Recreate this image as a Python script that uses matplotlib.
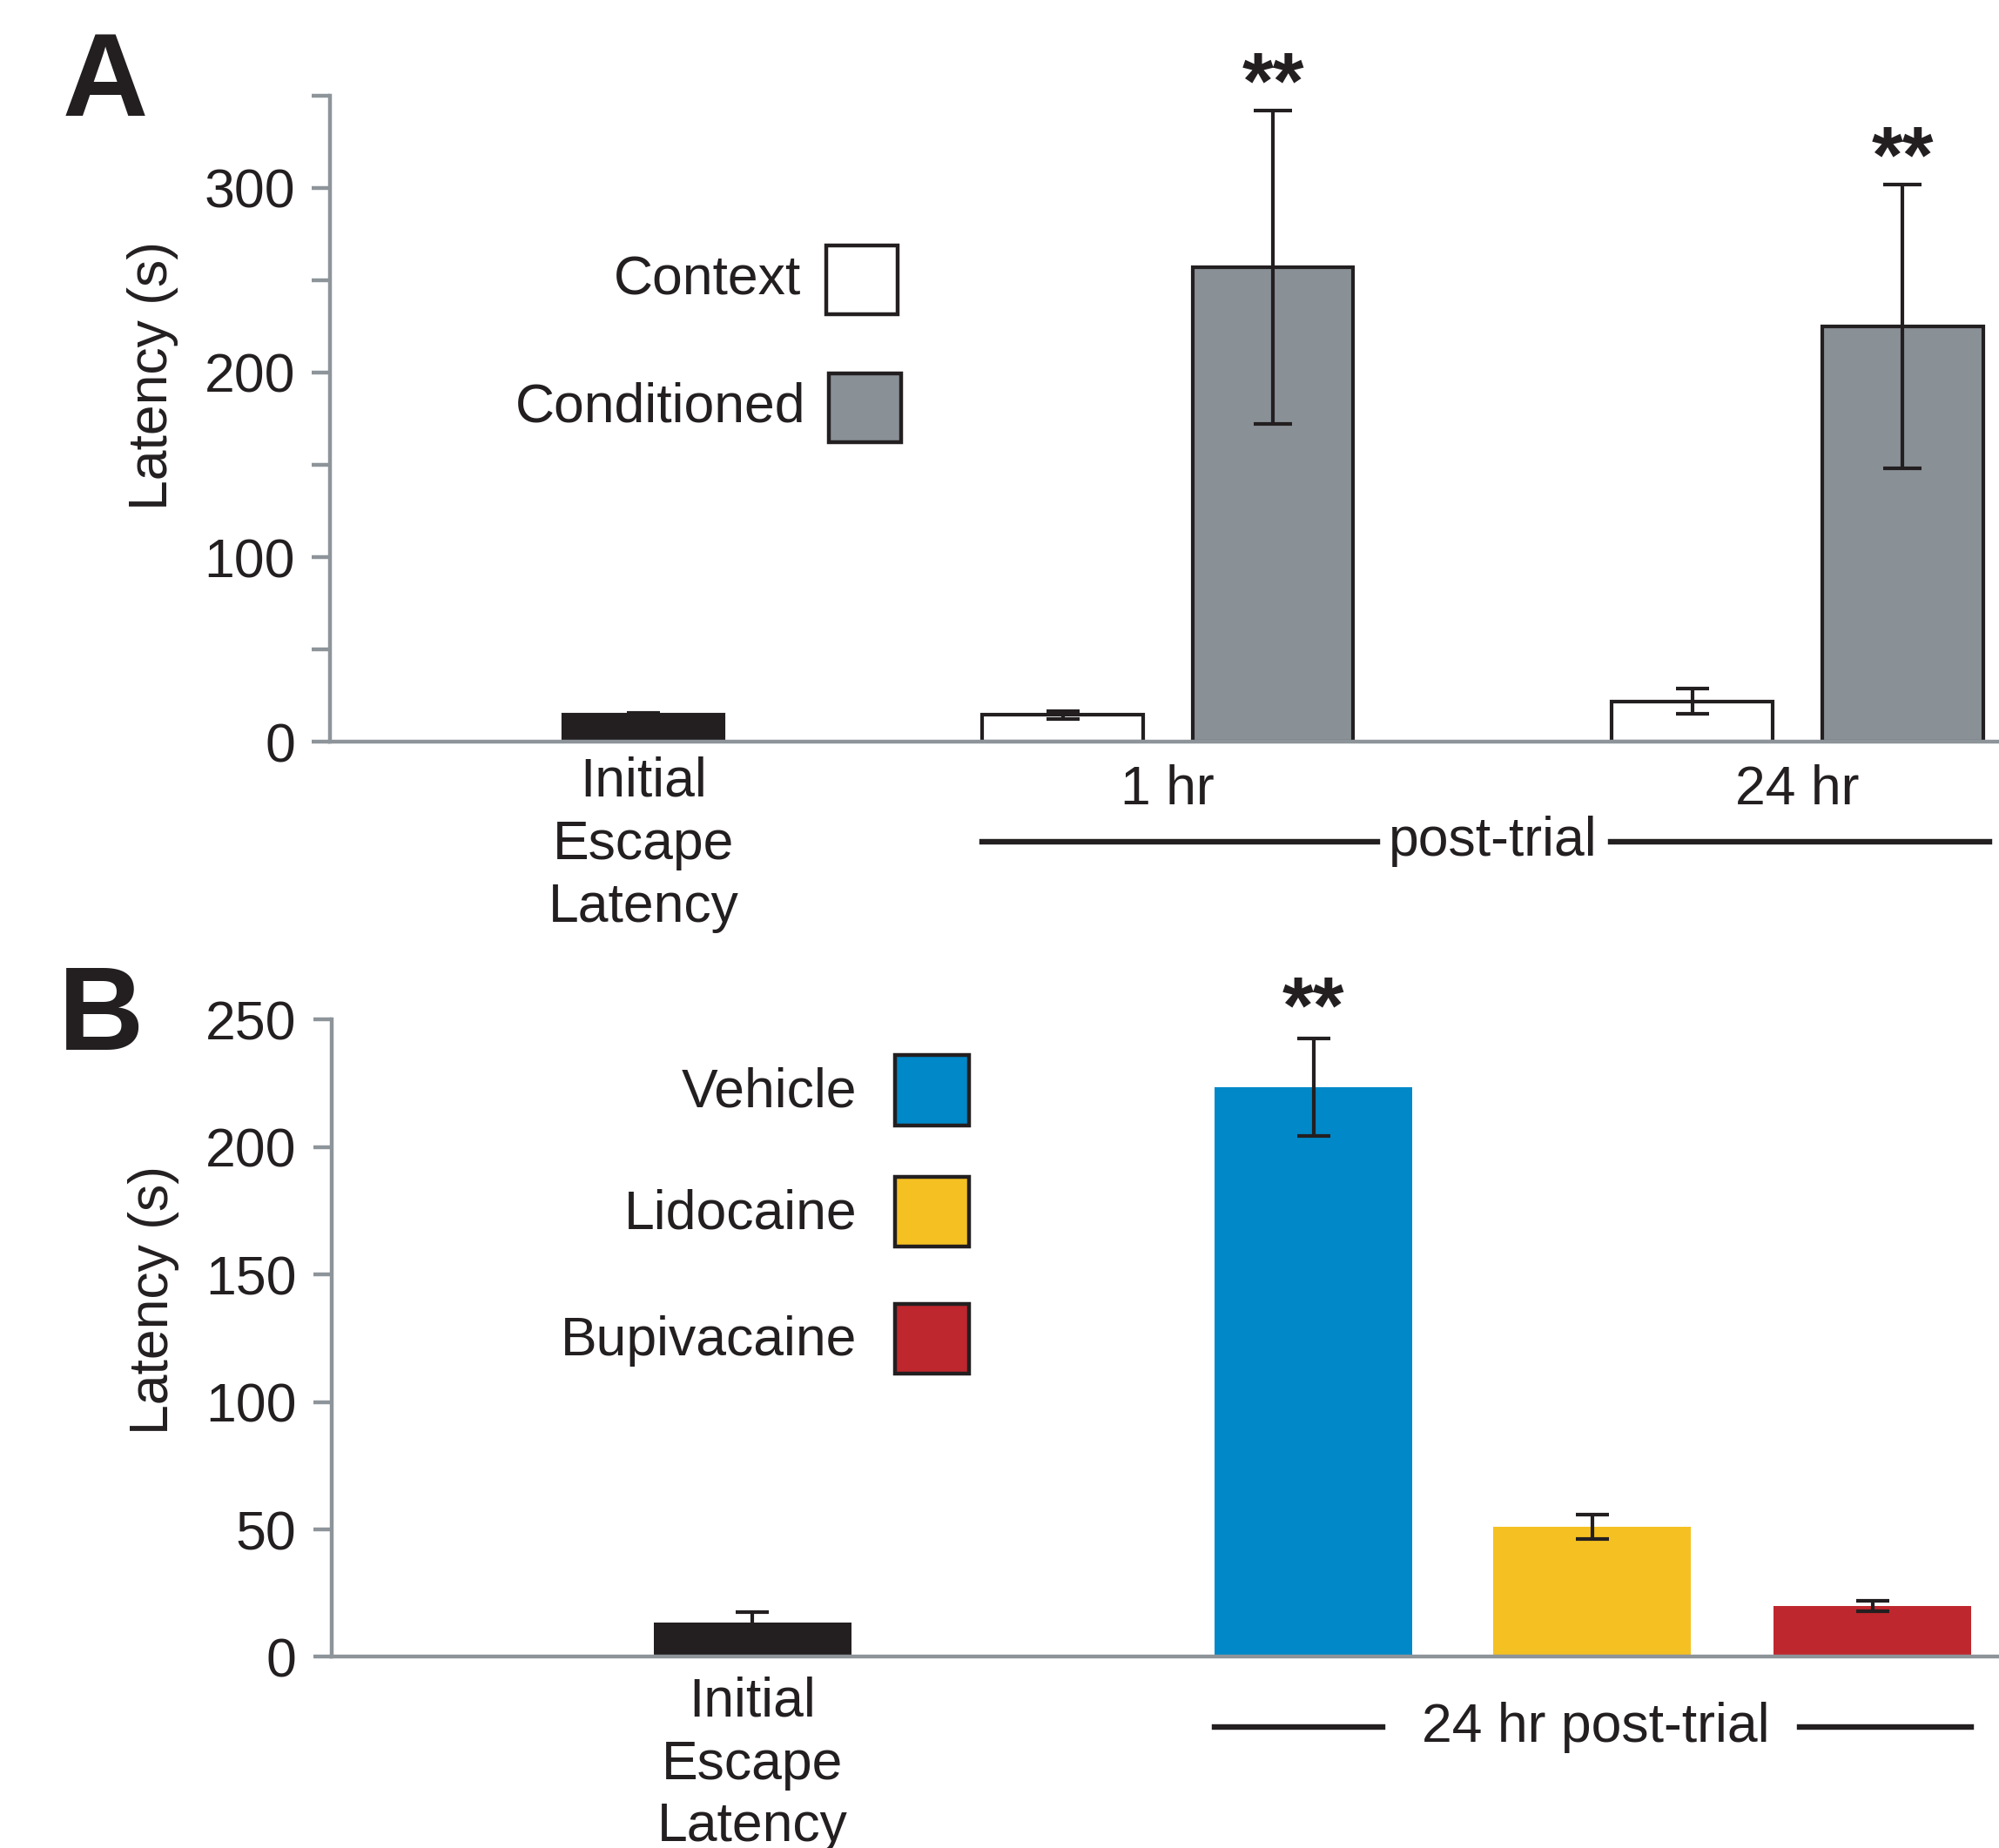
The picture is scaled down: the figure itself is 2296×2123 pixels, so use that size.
import matplotlib
matplotlib.use('Agg')
import matplotlib.pyplot as plt
from matplotlib.patches import Rectangle

plt.rcParams['font.family'] = ['Liberation Sans', 'DejaVu Sans']

# ---- panel A data (latency in s, mean and SEM)
a_initial = 14.5
a_initial_err = 1.0
a_groups = ['1 hr', '24 hr']
a_context = [14.5, 22.0]
a_context_err = [2.0, 7.0]
a_conditioned = [257.0, 225.0]
a_conditioned_err = [85.0, 77.0]

# ---- panel B data
b_initial = 13.5
b_initial_err = 4.0
b_drugs = ['Vehicle', 'Lidocaine', 'Bupivacaine']
b_values = [223.5, 51.0, 20.0]
b_errs = [19.0, 4.7, 2.0]

INK = '#231f20'
SPINE = '#8d949a'
GRAY = '#899096'
b_colors = ['#0088c8', '#f5c022', '#be272d']
FS = 45

fig = plt.figure(figsize=(22.96, 21.23), dpi=100)
axA = fig.add_axes([0.1652, 0.5986, 0.8348, 0.3497])
axB = fig.add_axes([0.1658, 0.1034, 0.8342, 0.3448])


def style_axis(ax, label_y, xpad):
    for s in ['top', 'right']:
        ax.spines[s].set_visible(False)
    for s in ['left', 'bottom']:
        ax.spines[s].set_color(SPINE)
        ax.spines[s].set_linewidth(3.2)
    ax.tick_params(axis='y', which='both', direction='out', length=15,
                   width=3.2, color=SPINE, labelsize=FS, pad=14,
                   labelcolor=INK)
    ax.tick_params(axis='x', length=0, labelsize=FS, labelcolor=INK, pad=xpad)
    ax.set_ylabel('Latency (s)', fontsize=FS, color=INK)
    ax.yaxis.set_label_coords(-0.091, label_y)


ekw = dict(fmt='none', ecolor=INK, elinewidth=3.0, capthick=3.0, zorder=5)
star_kw = dict(ha='center', va='baseline', fontsize=66, fontweight='semibold',
               color=INK, clip_on=False)

# ================= panel A
style_axis(axA, 0.566, 12)
w = 1.0
xa_init = 1.95
xa_ctx = [4.56, 8.48]
xa_cond = [5.87, 9.79]
axA.bar(xa_init, a_initial, width=w, color=INK, edgecolor=INK, linewidth=3)
axA.bar(xa_ctx, a_context, width=w, color='white', edgecolor=INK, linewidth=3)
axA.bar(xa_cond, a_conditioned, width=w, color=GRAY, edgecolor=INK, linewidth=3)
axA.errorbar([xa_init], [a_initial], yerr=[a_initial_err], capsize=14, **ekw)
axA.errorbar(xa_ctx, a_context, yerr=a_context_err, capsize=14, **ekw)
axA.errorbar(xa_cond, a_conditioned, yerr=a_conditioned_err, capsize=16, **ekw)
for x, v, e in zip(xa_cond, a_conditioned, a_conditioned_err):
    axA.text(x, v + e + 1, '**', **star_kw)

axA.set_xlim(0, 10.39)
axA.set_ylim(0, 350)
axA.set_yticks([0, 100, 200, 300])
axA.set_yticks([50, 150, 250, 350], minor=True)
grp_centers = [(c + d) / 2 for c, d in zip(xa_ctx, xa_cond)]
axA.set_xticks([xa_init] + grp_centers)
axA.set_xticklabels(['Initial\nEscape\nLatency'] + a_groups, va='top',
                    linespacing=1.28)
for lab in axA.get_xticklabels()[1:]:
    lab.set_y(-0.012)

# post-trial bracket
trA = axA.get_xaxis_transform()
axA.plot([xa_ctx[0] - 0.5, 6.52], [-0.154, -0.154], color=INK, lw=4.6,
         transform=trA, clip_on=False)
axA.plot([7.97, 10.33], [-0.154, -0.154], color=INK, lw=4.6,
         transform=trA, clip_on=False)
axA.text(7.24, -0.154, 'post-trial', transform=trA, ha='center', va='center',
         fontsize=FS, color=INK)

# legend A
leg_a = [('Context', 'white', 0.297, 0.661, 0.714, 0.282),
         ('Conditioned', GRAY, 0.2987, 0.4635, 0.517, 0.285)]
for name, col, x0, y0, ty, tx in leg_a:
    axA.add_patch(Rectangle((x0, y0), 0.0432, 0.107, transform=axA.transAxes,
                            facecolor=col, edgecolor=INK, linewidth=3.2,
                            clip_on=False))
    axA.text(tx, ty, name, transform=axA.transAxes, ha='right', va='center',
             fontsize=FS, color=INK)

# ================= panel B
style_axis(axB, 0.56, 16)
xb_init = 2.13
xb_drugs = [4.97, 6.38, 7.80]
axB.bar(xb_init, b_initial, width=w, color=INK)
axB.bar(xb_drugs, b_values, width=w, color=b_colors)
axB.errorbar([xb_init], [b_initial], yerr=[b_initial_err], capsize=14, **ekw)
axB.errorbar(xb_drugs, b_values, yerr=b_errs, capsize=14, **ekw)
axB.text(xb_drugs[0], b_values[0] + b_errs[0] + 2.5, '**', **star_kw)

axB.set_xlim(0, 8.44)
axB.set_ylim(0, 250)
axB.set_yticks([0, 50, 100, 150, 200, 250])
axB.set_xticks([xb_init])
axB.set_xticklabels(['Initial\nEscape\nLatency'], va='top', linespacing=1.28)

trB = axB.get_xaxis_transform()
axB.plot([xb_drugs[0] - 0.5, 5.32], [-0.11, -0.11], color=INK, lw=4.6,
         transform=trB, clip_on=False)
axB.plot([7.43, 8.30], [-0.11, -0.11], color=INK, lw=4.6,
         transform=trB, clip_on=False)
axB.text(6.40, -0.11, '24 hr post-trial', transform=trB, ha='center',
         va='center', fontsize=FS, color=INK)

# legend B
leg_b_y = [(0.834, 0.886), (0.644, 0.694), (0.444, 0.496)]
for name, col, (y0, ty) in zip(b_drugs, b_colors, leg_b_y):
    axB.add_patch(Rectangle((0.338, y0), 0.0443, 0.11, transform=axB.transAxes,
                            facecolor=col, edgecolor=INK, linewidth=3.2,
                            clip_on=False))
    axB.text(0.315, ty, name, transform=axB.transAxes, ha='right', va='center',
             fontsize=FS, color=INK)

# panel letters
fig.text(0.031, 0.954, 'A', fontsize=98, fontweight='bold', color=INK,
         ha='left', va='center')
fig.text(0.029, 0.4485, 'B', fontsize=98, fontweight='bold', color=INK,
         ha='left', va='center')

fig.savefig('out.png', dpi=100)
